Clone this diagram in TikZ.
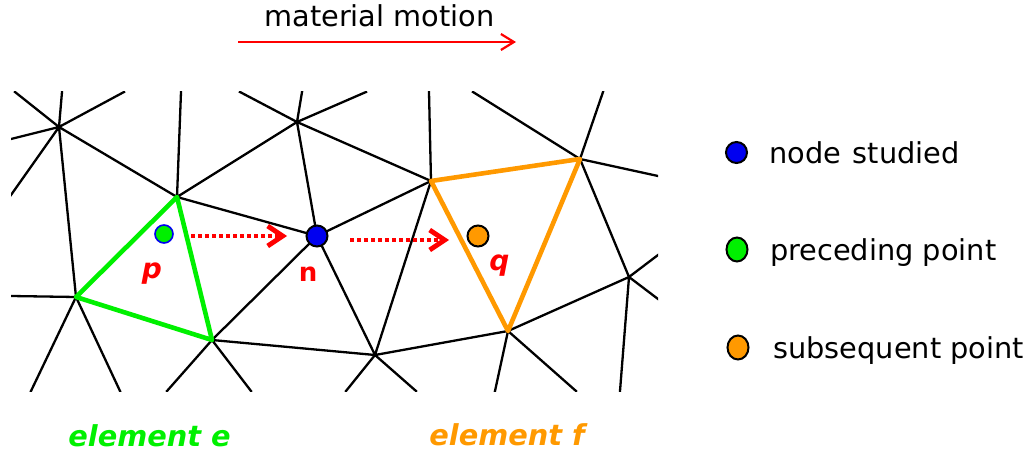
\documentclass[tikz,border=0pt]{standalone}
\usepackage{fontspec}
\setmainfont{DejaVu Sans}
\usetikzlibrary{arrows.meta,shapes.geometric}
\definecolor{mygreen}{RGB}{0,240,0}
\definecolor{myorange}{RGB}{255,153,0}
\definecolor{myblue}{RGB}{0,0,240}
\newcommand{\fs}[1]{\fontsize{#1pt}{#1pt}\selectfont}
\tikzset{
  mesh/.style={black,line width=2.3pt,line cap=rect},
  tri/.style={line width=4.6pt,line join=round},
  dot/.style={circle,draw=black,line width=2pt,inner sep=0pt,minimum size=19pt},
  legdot/.style={ellipse,draw=black,line width=2pt,inner sep=0pt},
  legtext/.style={anchor=base west,inner sep=0pt,font=\fs{28.8}},
  lab/.style={anchor=base,inner sep=0pt,text=red,font=\fs{28}\bfseries\itshape},
  elem/.style={anchor=base,inner sep=0pt,font=\fs{28.8}\bfseries\itshape},
  flow/.style={red,line width=4.4pt,dash pattern=on 3.5pt off 3.5pt,-{Straight Barb[length=15pt,width=20pt,line width=4.8pt]}},
}
\begin{document}
\begin{tikzpicture}[x=1pt,y=-1pt]
\useasboundingbox (0,0) rectangle (1032,457);
% mesh vertices
\coordinate (A) at (59,127);
\coordinate (B) at (177,197);
\coordinate (C) at (297,122);
\coordinate (D) at (76,297);
\coordinate (E) at (212,340);
\coordinate (F) at (431,181);
\coordinate (G) at (580,159);
\coordinate (H) at (375,355);
\coordinate (I) at (508,331);
\coordinate (J) at (629,277);
% free ends
\coordinate (a1) at (15,92);
\coordinate (a2) at (62,92);
\coordinate (a3) at (124,92);
\coordinate (a4) at (11,139);
\coordinate (a5) at (11,195);
\coordinate (b1) at (181,92);
\coordinate (c1) at (240,92);
\coordinate (c2) at (302,92);
\coordinate (c3) at (366,92);
\coordinate (f1) at (429,92);
\coordinate (g1) at (473,92);
\coordinate (g2) at (603,92);
\coordinate (g3) at (658,176);
\coordinate (j1) at (658,255);
\coordinate (j2) at (658,299);
\coordinate (j3) at (620,391);
\coordinate (i1) at (495,391);
\coordinate (i2) at (576,391);
\coordinate (h1) at (346,391);
\coordinate (h2) at (416,391);
\coordinate (e1) at (167,391);
\coordinate (e2) at (251,391);
\coordinate (d1) at (11,296);
\coordinate (d2) at (31,391);
\coordinate (d3) at (120,391);
\coordinate (nc) at (317,236);
\begin{scope}
\clip (11,92) rectangle (658,391);
\draw[mesh] (A)--(a1) (A)--(a2) (A)--(a3) (A)--(a4) (A)--(a5)
  (B)--(b1) (C)--(c1) (C)--(c2) (C)--(c3) (F)--(f1)
  (G)--(g1) (G)--(g2) (G)--(g3) (J)--(j1) (J)--(j2) (J)--(j3)
  (I)--(i1) (I)--(i2) (H)--(h1) (H)--(h2) (E)--(e1) (E)--(e2)
  (D)--(d1) (D)--(d2) (D)--(d3)
  (A)--(B) (A)--(D) (B)--(C) (B)--(nc) (C)--(nc) (C)--(F)
  (nc)--(F) (nc)--(E) (nc)--(H) (E)--(H) (H)--(F) (H)--(I)
  (I)--(J) (G)--(J);
\end{scope}
\draw[tri,mygreen] (B)--(D)--(E)--cycle;
\draw[tri,myorange] (F)--(G)--(I)--cycle;
\node[dot,fill=myblue,minimum size=21pt] (n) at (nc) {};
\node[circle,draw=myblue,line width=1.6pt,fill=mygreen,inner sep=0pt,minimum size=18pt] (p) at (164,234) {};
\node[dot,fill=myorange,minimum size=21pt] (q) at (478,236) {};
% flow arrows
\coordinate (f1s) at (191,236);
\coordinate (f1e) at (287,236);
\coordinate (f2s) at (350,240);
\coordinate (f2e) at (449,240);
\draw[flow] (f1s)--(f1e);
\draw[flow] (f2s)--(f2e);
% motion arrow
\coordinate (m1) at (238,42);
\coordinate (m2) at (516,42);
\draw[red,line width=2.2pt,-{Straight Barb[length=13pt,width=16pt,line width=2.2pt]}] (m1)--(m2);
\node[anchor=base,inner sep=0pt,font=\fs{28.8}] (title) at (379.5,26.5) {material motion};
% labels
\node[lab] (lp) at (152,278) {p};
\node[lab,font=\fs{26}\bfseries] (ln) at (308,281) {n};
\node[lab] (lq) at (499.5,270) {q};
\node[elem,text=mygreen] (ee) at (149.5,446.5) {element e};
\node[elem,text=myorange] (ef) at (507,445) {element f};
% legend
\node[legdot,fill=myblue,minimum width=21pt,minimum height=21pt] (l1) at (736.5,152.5) {};
\node[legdot,fill=mygreen,minimum width=21pt,minimum height=24pt] (l2) at (737,249.5) {};
\node[legdot,fill=myorange,minimum width=21pt,minimum height=24pt] (l3) at (738,347.5) {};
\node[legtext] (t1) at (769,164) {node\hspace{2.5pt} studied};
\node[legtext] (t2) at (770,260.5) {preceding point};
\node[legtext] (t3) at (773,358.5) {subsequent point};
\end{tikzpicture}
\end{document}
